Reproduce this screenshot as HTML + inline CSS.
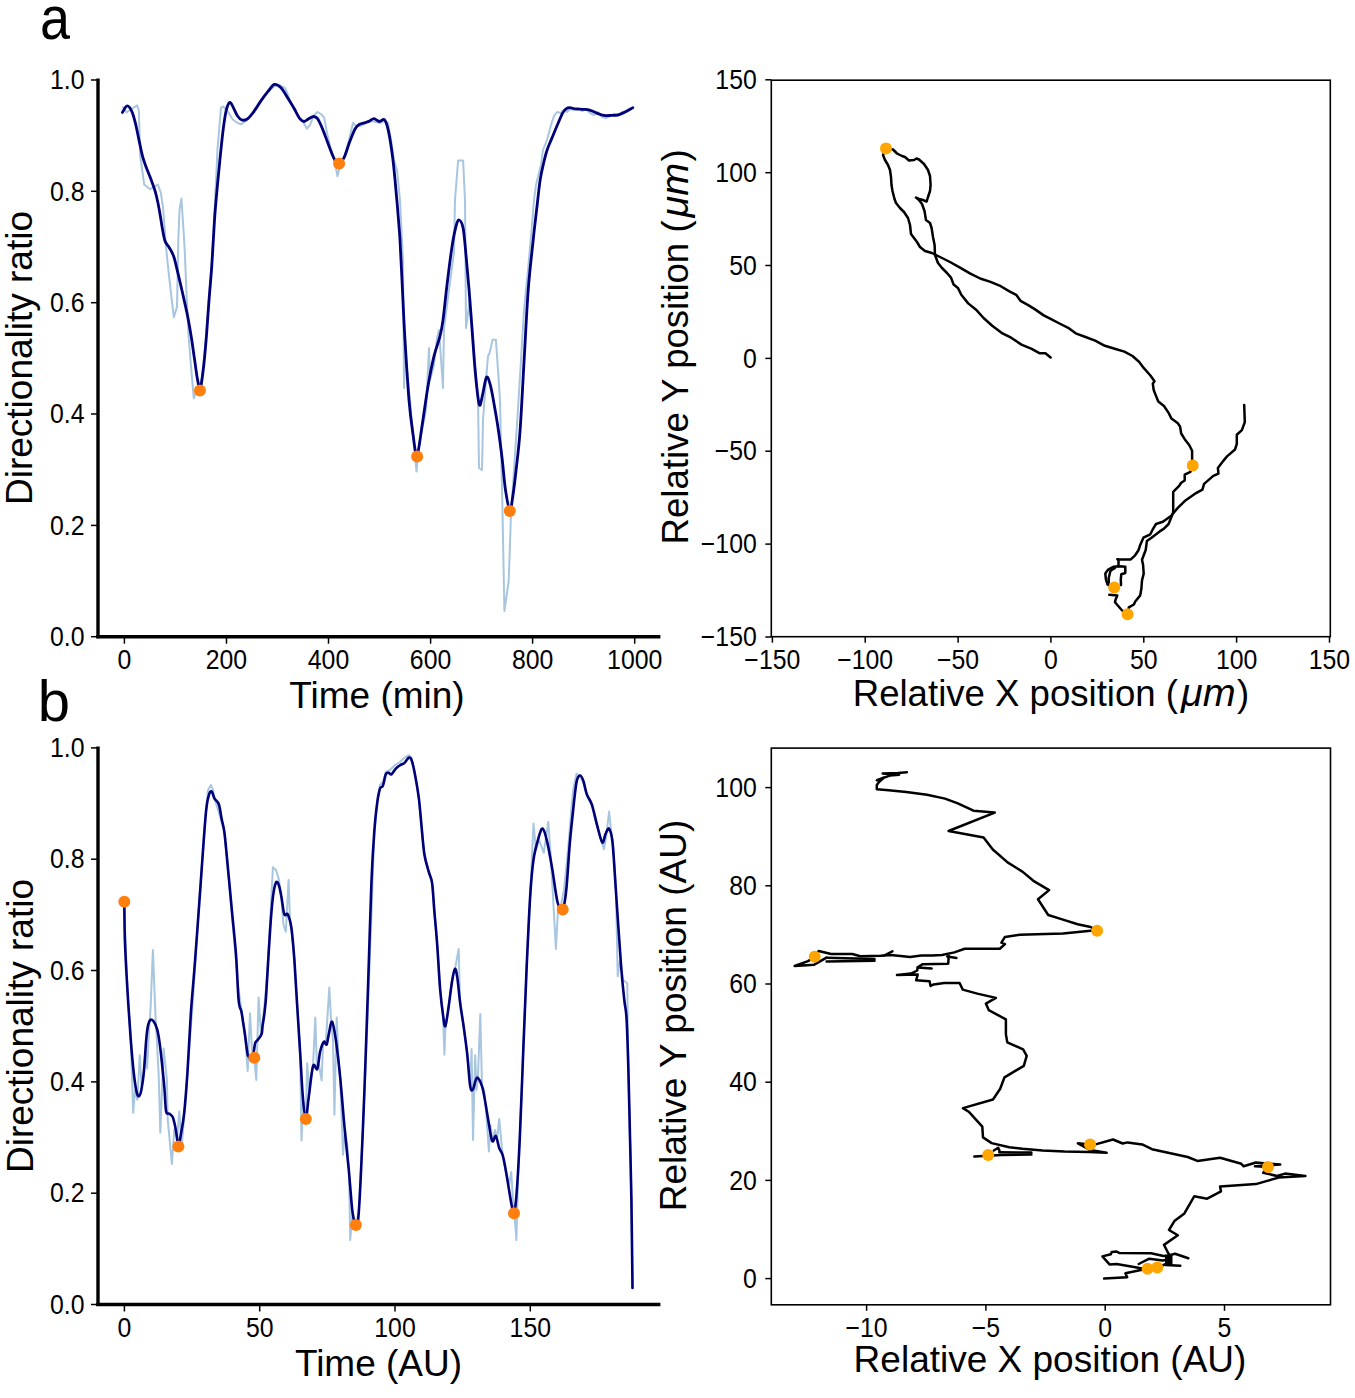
<!DOCTYPE html>
<html><head><meta charset="utf-8"><style>
html,body{margin:0;padding:0;background:#fff;}
svg{display:block;}
text{font-family:"Liberation Sans", sans-serif;fill:#000;}
</style></head><body>
<svg width="1355" height="1398" viewBox="0 0 1355 1398">
<rect width="1355" height="1398" fill="#fff"/>
<line x1="98" y1="78.5" x2="98" y2="638.3000000000001" stroke="#000" stroke-width="3.4"/>
<line x1="96.3" y1="636.7" x2="660.4" y2="636.7" stroke="#000" stroke-width="3.4"/>
<line x1="91" y1="636.7" x2="98" y2="636.7" stroke="#000" stroke-width="1.5"/>
<text x="0" y="0" font-size="27" text-anchor="end" transform="translate(84.50 645.90) scale(0.92 1)">0.0</text>
<line x1="91" y1="525.4" x2="98" y2="525.4" stroke="#000" stroke-width="1.5"/>
<text x="0" y="0" font-size="27" text-anchor="end" transform="translate(84.50 534.56) scale(0.92 1)">0.2</text>
<line x1="91" y1="414.0" x2="98" y2="414.0" stroke="#000" stroke-width="1.5"/>
<text x="0" y="0" font-size="27" text-anchor="end" transform="translate(84.50 423.22) scale(0.92 1)">0.4</text>
<line x1="91" y1="302.7" x2="98" y2="302.7" stroke="#000" stroke-width="1.5"/>
<text x="0" y="0" font-size="27" text-anchor="end" transform="translate(84.50 311.88) scale(0.92 1)">0.6</text>
<line x1="91" y1="191.3" x2="98" y2="191.3" stroke="#000" stroke-width="1.5"/>
<text x="0" y="0" font-size="27" text-anchor="end" transform="translate(84.50 200.54) scale(0.92 1)">0.8</text>
<line x1="91" y1="80.0" x2="98" y2="80.0" stroke="#000" stroke-width="1.5"/>
<text x="0" y="0" font-size="27" text-anchor="end" transform="translate(84.50 89.20) scale(0.92 1)">1.0</text>
<line x1="124.4" y1="636.7" x2="124.4" y2="643.7" stroke="#000" stroke-width="1.5"/>
<text x="0" y="0" font-size="27" text-anchor="middle" transform="translate(124.40 668.70) scale(0.92 1)">0</text>
<line x1="226.5" y1="636.7" x2="226.5" y2="643.7" stroke="#000" stroke-width="1.5"/>
<text x="0" y="0" font-size="27" text-anchor="middle" transform="translate(226.46 668.70) scale(0.92 1)">200</text>
<line x1="328.5" y1="636.7" x2="328.5" y2="643.7" stroke="#000" stroke-width="1.5"/>
<text x="0" y="0" font-size="27" text-anchor="middle" transform="translate(328.52 668.70) scale(0.92 1)">400</text>
<line x1="430.6" y1="636.7" x2="430.6" y2="643.7" stroke="#000" stroke-width="1.5"/>
<text x="0" y="0" font-size="27" text-anchor="middle" transform="translate(430.58 668.70) scale(0.92 1)">600</text>
<line x1="532.6" y1="636.7" x2="532.6" y2="643.7" stroke="#000" stroke-width="1.5"/>
<text x="0" y="0" font-size="27" text-anchor="middle" transform="translate(532.64 668.70) scale(0.92 1)">800</text>
<line x1="634.7" y1="636.7" x2="634.7" y2="643.7" stroke="#000" stroke-width="1.5"/>
<text x="0" y="0" font-size="27" text-anchor="middle" transform="translate(634.70 668.70) scale(0.92 1)">1000</text>
<text x="377.0" y="707.5" font-size="37" text-anchor="middle">Time (min)</text>
<text x="32.0" y="358.0" font-size="37" text-anchor="middle" transform="rotate(-90 32 358)">Directionality ratio</text>
<line x1="98" y1="746.4" x2="98" y2="1306.1" stroke="#000" stroke-width="3.4"/>
<line x1="96.3" y1="1304.5" x2="660.4" y2="1304.5" stroke="#000" stroke-width="3.4"/>
<line x1="91" y1="1304.5" x2="98" y2="1304.5" stroke="#000" stroke-width="1.5"/>
<text x="0" y="0" font-size="27" text-anchor="end" transform="translate(84.50 1313.70) scale(0.92 1)">0.0</text>
<line x1="91" y1="1193.2" x2="98" y2="1193.2" stroke="#000" stroke-width="1.5"/>
<text x="0" y="0" font-size="27" text-anchor="end" transform="translate(84.50 1202.38) scale(0.92 1)">0.2</text>
<line x1="91" y1="1081.9" x2="98" y2="1081.9" stroke="#000" stroke-width="1.5"/>
<text x="0" y="0" font-size="27" text-anchor="end" transform="translate(84.50 1091.06) scale(0.92 1)">0.4</text>
<line x1="91" y1="970.5" x2="98" y2="970.5" stroke="#000" stroke-width="1.5"/>
<text x="0" y="0" font-size="27" text-anchor="end" transform="translate(84.50 979.74) scale(0.92 1)">0.6</text>
<line x1="91" y1="859.2" x2="98" y2="859.2" stroke="#000" stroke-width="1.5"/>
<text x="0" y="0" font-size="27" text-anchor="end" transform="translate(84.50 868.42) scale(0.92 1)">0.8</text>
<line x1="91" y1="747.9" x2="98" y2="747.9" stroke="#000" stroke-width="1.5"/>
<text x="0" y="0" font-size="27" text-anchor="end" transform="translate(84.50 757.10) scale(0.92 1)">1.0</text>
<line x1="124.4" y1="1304.5" x2="124.4" y2="1311.5" stroke="#000" stroke-width="1.5"/>
<text x="0" y="0" font-size="27" text-anchor="middle" transform="translate(124.40 1336.50) scale(0.92 1)">0</text>
<line x1="259.7" y1="1304.5" x2="259.7" y2="1311.5" stroke="#000" stroke-width="1.5"/>
<text x="0" y="0" font-size="27" text-anchor="middle" transform="translate(259.70 1336.50) scale(0.92 1)">50</text>
<line x1="395.0" y1="1304.5" x2="395.0" y2="1311.5" stroke="#000" stroke-width="1.5"/>
<text x="0" y="0" font-size="27" text-anchor="middle" transform="translate(395.00 1336.50) scale(0.92 1)">100</text>
<line x1="530.3" y1="1304.5" x2="530.3" y2="1311.5" stroke="#000" stroke-width="1.5"/>
<text x="0" y="0" font-size="27" text-anchor="middle" transform="translate(530.30 1336.50) scale(0.92 1)">150</text>
<text x="378.5" y="1375.6" font-size="37" text-anchor="middle">Time (AU)</text>
<text x="32.5" y="1026.0" font-size="37" text-anchor="middle" transform="rotate(-90 32.5 1026)">Directionality ratio</text>
<rect x="771.3" y="80.2" width="559.0" height="556.5" fill="none" stroke="#000" stroke-width="1.6"/>
<line x1="772.4" y1="636.7" x2="772.4" y2="642.7" stroke="#000" stroke-width="1.5"/>
<text x="0" y="0" font-size="27" text-anchor="middle" transform="translate(772.35 668.70) scale(0.92 1)">&#8722;150</text>
<line x1="865.2" y1="636.7" x2="865.2" y2="642.7" stroke="#000" stroke-width="1.5"/>
<text x="0" y="0" font-size="27" text-anchor="middle" transform="translate(865.20 668.70) scale(0.92 1)">&#8722;100</text>
<line x1="958.1" y1="636.7" x2="958.1" y2="642.7" stroke="#000" stroke-width="1.5"/>
<text x="0" y="0" font-size="27" text-anchor="middle" transform="translate(958.05 668.70) scale(0.92 1)">&#8722;50</text>
<line x1="1050.9" y1="636.7" x2="1050.9" y2="642.7" stroke="#000" stroke-width="1.5"/>
<text x="0" y="0" font-size="27" text-anchor="middle" transform="translate(1050.90 668.70) scale(0.92 1)">0</text>
<line x1="1143.8" y1="636.7" x2="1143.8" y2="642.7" stroke="#000" stroke-width="1.5"/>
<text x="0" y="0" font-size="27" text-anchor="middle" transform="translate(1143.75 668.70) scale(0.92 1)">50</text>
<line x1="1236.6" y1="636.7" x2="1236.6" y2="642.7" stroke="#000" stroke-width="1.5"/>
<text x="0" y="0" font-size="27" text-anchor="middle" transform="translate(1236.60 668.70) scale(0.92 1)">100</text>
<line x1="1329.5" y1="636.7" x2="1329.5" y2="642.7" stroke="#000" stroke-width="1.5"/>
<text x="0" y="0" font-size="27" text-anchor="middle" transform="translate(1329.45 668.70) scale(0.92 1)">150</text>
<line x1="765.3" y1="637.0" x2="771.3" y2="637.0" stroke="#000" stroke-width="1.5"/>
<text x="0" y="0" font-size="27" text-anchor="end" transform="translate(756.80 646.15) scale(0.92 1)">&#8722;150</text>
<line x1="765.3" y1="544.1" x2="771.3" y2="544.1" stroke="#000" stroke-width="1.5"/>
<text x="0" y="0" font-size="27" text-anchor="end" transform="translate(756.80 553.30) scale(0.92 1)">&#8722;100</text>
<line x1="765.3" y1="451.2" x2="771.3" y2="451.2" stroke="#000" stroke-width="1.5"/>
<text x="0" y="0" font-size="27" text-anchor="end" transform="translate(756.80 460.45) scale(0.92 1)">&#8722;50</text>
<line x1="765.3" y1="358.4" x2="771.3" y2="358.4" stroke="#000" stroke-width="1.5"/>
<text x="0" y="0" font-size="27" text-anchor="end" transform="translate(756.80 367.60) scale(0.92 1)">0</text>
<line x1="765.3" y1="265.5" x2="771.3" y2="265.5" stroke="#000" stroke-width="1.5"/>
<text x="0" y="0" font-size="27" text-anchor="end" transform="translate(756.80 274.75) scale(0.92 1)">50</text>
<line x1="765.3" y1="172.7" x2="771.3" y2="172.7" stroke="#000" stroke-width="1.5"/>
<text x="0" y="0" font-size="27" text-anchor="end" transform="translate(756.80 181.90) scale(0.92 1)">100</text>
<line x1="765.3" y1="79.8" x2="771.3" y2="79.8" stroke="#000" stroke-width="1.5"/>
<text x="0" y="0" font-size="27" text-anchor="end" transform="translate(756.80 89.05) scale(0.92 1)">150</text>
<text x="1051.0" y="705.5" font-size="36.6" text-anchor="middle">Relative X position (<tspan font-style="italic" font-size="39.5" dx="3">&#956;m</tspan><tspan dx="1.5">)</tspan></text>
<text x="688.3" y="346.8" font-size="36.6" text-anchor="middle" transform="rotate(-90 688.3 346.8)">Relative Y position (<tspan font-style="italic" font-size="39.5" dx="3">&#956;m</tspan><tspan dx="1.5">)</tspan></text>
<rect x="771.3" y="748.1" width="559.2" height="556.6999999999999" fill="none" stroke="#000" stroke-width="1.6"/>
<line x1="866.6" y1="1304.8" x2="866.6" y2="1310.8" stroke="#000" stroke-width="1.5"/>
<text x="0" y="0" font-size="27" text-anchor="middle" transform="translate(866.60 1336.80) scale(0.92 1)">&#8722;10</text>
<line x1="985.9" y1="1304.8" x2="985.9" y2="1310.8" stroke="#000" stroke-width="1.5"/>
<text x="0" y="0" font-size="27" text-anchor="middle" transform="translate(985.90 1336.80) scale(0.92 1)">&#8722;5</text>
<line x1="1105.2" y1="1304.8" x2="1105.2" y2="1310.8" stroke="#000" stroke-width="1.5"/>
<text x="0" y="0" font-size="27" text-anchor="middle" transform="translate(1105.20 1336.80) scale(0.92 1)">0</text>
<line x1="1224.5" y1="1304.8" x2="1224.5" y2="1310.8" stroke="#000" stroke-width="1.5"/>
<text x="0" y="0" font-size="27" text-anchor="middle" transform="translate(1224.50 1336.80) scale(0.92 1)">5</text>
<line x1="765.3" y1="1278.6" x2="771.3" y2="1278.6" stroke="#000" stroke-width="1.5"/>
<text x="0" y="0" font-size="27" text-anchor="end" transform="translate(756.80 1287.80) scale(0.92 1)">0</text>
<line x1="765.3" y1="1180.4" x2="771.3" y2="1180.4" stroke="#000" stroke-width="1.5"/>
<text x="0" y="0" font-size="27" text-anchor="end" transform="translate(756.80 1189.60) scale(0.92 1)">20</text>
<line x1="765.3" y1="1082.2" x2="771.3" y2="1082.2" stroke="#000" stroke-width="1.5"/>
<text x="0" y="0" font-size="27" text-anchor="end" transform="translate(756.80 1091.40) scale(0.92 1)">40</text>
<line x1="765.3" y1="984.0" x2="771.3" y2="984.0" stroke="#000" stroke-width="1.5"/>
<text x="0" y="0" font-size="27" text-anchor="end" transform="translate(756.80 993.20) scale(0.92 1)">60</text>
<line x1="765.3" y1="885.8" x2="771.3" y2="885.8" stroke="#000" stroke-width="1.5"/>
<text x="0" y="0" font-size="27" text-anchor="end" transform="translate(756.80 895.00) scale(0.92 1)">80</text>
<line x1="765.3" y1="787.6" x2="771.3" y2="787.6" stroke="#000" stroke-width="1.5"/>
<text x="0" y="0" font-size="27" text-anchor="end" transform="translate(756.80 796.80) scale(0.92 1)">100</text>
<text x="1050.0" y="1371.5" font-size="37" text-anchor="middle">Relative X position (AU)</text>
<text x="685.6" y="1015.5" font-size="37" text-anchor="middle" transform="rotate(-90 685.6 1015.5)">Relative Y position (AU)</text>
<text x="0" y="0" font-size="58" transform="translate(39.9 38.7) scale(0.93 1.05)">a</text>
<text x="37.8" y="721.0" font-size="58" text-anchor="start">b</text>
<path d="M122.4,106.5 L126.5,112.4 L130.0,110.0 L133.6,107.7 L137.2,105.4 L138.9,111.3 L140.1,155.0 L144.2,184.5 L150.1,189.2 L157.8,184.5 L160.8,192.7 L163.1,208.0 L166.1,247.7 L169.3,278.6 L173.8,317.2 L177.0,306.9 L178.3,240.0 L179.5,210.0 L181.4,198.6 L183.5,230.0 L184.7,250.0 L186.7,297.9 L188.6,336.5 L191.2,368.7 L193.8,398.3 L196.0,392.0 L199.0,385.0 L201.5,380.0 L204.1,358.0 L206.6,330.0 L209.2,295.0 L211.8,262.0 L214.5,214.0 L217.5,149.0 L221.0,107.7 L223.4,106.5 L228.0,112.0 L232.8,119.5 L237.5,123.0 L241.1,124.2 L246.0,121.0 L252.0,113.0 L258.0,104.0 L264.0,96.0 L270.0,90.0 L275.0,86.0 L280.0,85.0 L285.0,88.0 L288.0,95.0 L291.0,103.0 L294.0,109.0 L299.0,117.0 L303.0,122.0 L307.0,128.7 L310.0,125.0 L314.0,115.0 L317.5,112.0 L321.0,114.0 L324.2,117.6 L327.0,133.0 L330.0,146.0 L334.0,158.0 L337.5,176.3 L340.0,166.0 L344.0,158.0 L349.0,140.0 L353.0,123.0 L356.0,126.0 L360.0,126.0 L364.0,124.0 L368.0,122.0 L372.0,121.0 L376.0,122.0 L380.0,123.0 L384.0,121.0 L388.0,123.0 L391.0,140.0 L394.0,160.0 L397.0,170.0 L398.5,185.0 L400.0,200.0 L401.5,230.0 L403.0,260.0 L404.0,388.0 L405.0,340.0 L407.0,370.0 L410.0,400.0 L413.0,435.0 L416.5,471.6 L419.0,445.0 L422.0,430.0 L426.0,410.0 L429.0,348.0 L430.0,380.0 L434.0,365.0 L437.0,338.0 L439.0,330.0 L443.0,388.0 L444.0,328.0 L449.0,290.0 L454.0,252.0 L455.0,200.0 L458.1,160.4 L463.1,160.4 L465.0,200.0 L466.0,328.0 L470.0,298.0 L474.0,350.0 L478.0,400.0 L479.0,468.0 L482.0,470.0 L483.0,420.0 L486.0,380.0 L488.0,356.0 L489.4,353.6 L492.6,339.7 L495.9,339.7 L498.0,370.0 L500.0,400.0 L502.3,501.6 L504.4,611.0 L508.7,581.0 L510.9,516.7 L514.0,470.0 L517.3,420.0 L521.0,360.0 L524.0,310.0 L528.0,270.0 L532.0,225.0 L534.0,200.0 L536.0,185.0 L538.3,175.4 L541.0,165.0 L543.0,150.0 L547.0,140.0 L551.0,125.0 L554.0,116.0 L557.0,112.0 L561.0,113.0 L564.0,110.0 L567.0,112.0 L570.0,109.0 L574.0,110.0 L578.0,108.0 L582.0,111.0 L586.0,109.0 L590.0,113.0 L594.0,115.0 L598.0,112.0 L602.0,117.0 L606.0,118.0 L610.0,116.0 L614.0,114.0 L618.0,116.0 L622.0,112.0 L626.0,111.0 L630.0,109.0" fill="none" stroke="#a8c6e0" stroke-width="2" stroke-linejoin="round"/>
<path d="M122.4,112.4 C123.2,111.3 125.5,106.1 127.1,105.9 C128.7,105.7 130.4,108.4 131.8,111.3 C133.2,114.2 134.2,118.4 135.4,123.1 C136.6,127.8 137.7,134.1 138.9,139.6 C140.1,145.1 141.3,151.6 142.5,156.1 C143.7,160.6 144.6,162.9 146.0,166.7 C147.4,170.4 149.2,174.6 150.7,178.6 C152.2,182.6 153.7,186.5 154.9,190.4 C156.1,194.3 156.9,198.1 157.8,202.2 C158.7,206.3 159.4,210.7 160.2,215.2 C161.0,219.7 161.7,225.0 162.5,229.3 C163.3,233.6 163.9,237.9 165.0,241.0 C166.1,244.1 167.8,245.1 169.3,247.7 C170.8,250.3 172.4,252.6 173.8,256.7 C175.2,260.8 176.3,266.4 177.7,272.2 C179.1,278.0 180.6,284.4 182.2,291.5 C183.8,298.6 185.8,307.1 187.3,314.6 C188.8,322.1 190.0,329.2 191.2,336.5 C192.4,343.8 193.4,351.8 194.4,358.4 C195.4,365.0 196.1,371.1 197.0,376.4 C197.9,381.7 199.2,388.9 199.9,390.0 C200.7,391.1 200.8,387.5 201.5,382.9 C202.2,378.3 203.2,370.4 204.1,362.3 C204.9,354.2 205.8,344.7 206.6,334.0 C207.4,323.3 208.3,309.3 209.2,297.9 C210.1,286.5 210.9,278.7 211.8,265.7 C212.7,252.7 213.6,233.5 214.5,220.0 C215.4,206.5 216.5,195.3 217.5,184.5 C218.5,173.7 219.4,164.3 220.4,154.9 C221.4,145.5 222.4,135.3 223.4,127.8 C224.4,120.3 225.2,114.3 226.3,110.1 C227.4,105.9 228.7,102.8 229.9,102.4 C231.1,102.0 232.1,105.4 233.4,107.7 C234.7,110.0 236.0,113.9 237.5,116.0 C239.0,118.1 240.4,119.7 242.2,120.1 C244.0,120.5 246.2,119.8 248.2,118.3 C250.2,116.8 251.9,114.2 254.1,111.3 C256.2,108.3 258.8,103.9 261.1,100.6 C263.5,97.2 266.0,93.9 268.2,91.2 C270.4,88.5 272.3,85.0 274.4,84.4 C276.5,83.8 278.8,85.5 281.0,87.7 C283.2,89.9 285.4,94.2 287.6,97.7 C289.8,101.2 292.3,105.2 294.3,108.7 C296.3,112.2 298.2,116.6 299.8,118.7 C301.4,120.8 302.7,121.5 304.2,121.5 C305.7,121.5 307.1,119.5 308.7,118.7 C310.3,117.9 312.2,116.5 313.7,116.5 C315.2,116.5 316.1,116.9 317.5,118.7 C318.9,120.5 320.3,123.7 322.0,127.6 C323.7,131.5 325.5,136.8 327.5,142.0 C329.5,147.2 332.2,155.0 334.1,158.6 C336.0,162.2 337.4,163.7 339.1,163.5 C340.8,163.3 342.4,161.1 344.1,157.5 C345.9,153.9 347.8,146.8 349.6,142.0 C351.5,137.2 353.5,131.7 355.2,128.7 C356.9,125.7 358.0,125.2 359.6,124.2 C361.2,123.2 363.4,123.1 365.1,122.6 C366.8,122.0 368.1,121.6 369.6,120.9 C371.1,120.2 372.4,118.6 374.0,118.7 C375.6,118.8 377.8,121.3 379.5,121.5 C381.2,121.7 383.0,118.2 384.5,119.8 C386.0,121.4 387.0,124.4 388.4,130.9 C389.8,137.4 391.5,148.4 392.8,158.6 C394.1,168.8 395.2,181.6 396.1,191.8 C397.1,202.0 397.9,212.0 398.5,220.0 C399.1,228.0 399.4,230.0 400.0,240.0 C400.6,250.0 401.2,263.3 402.0,280.0 C402.8,296.7 403.8,320.2 405.0,340.2 C406.2,360.2 407.7,384.5 409.0,400.2 C410.3,415.9 411.7,425.2 413.0,434.3 C414.3,443.4 415.5,456.3 417.0,455.0 C418.5,453.7 420.2,437.8 422.0,426.3 C423.8,414.8 426.0,397.9 428.0,386.2 C430.0,374.5 432.0,364.5 434.0,356.2 C436.0,347.9 438.5,342.2 440.0,336.2 C441.5,330.2 441.8,328.8 443.0,320.1 C444.2,311.4 445.6,296.4 447.1,284.1 C448.6,271.8 450.6,255.8 452.1,246.1 C453.6,236.4 454.9,230.3 456.1,226.0 C457.3,221.7 457.9,219.7 459.1,220.0 C460.3,220.3 461.9,222.0 463.1,228.0 C464.3,234.0 465.1,245.8 466.1,256.1 C467.1,266.5 468.1,277.8 469.1,290.1 C470.1,302.5 471.1,316.9 472.1,330.2 C473.1,343.5 474.1,358.9 475.1,370.2 C476.1,381.5 477.3,392.4 478.1,398.2 C478.9,404.0 479.3,406.2 480.1,405.2 C480.9,404.2 482.0,396.9 483.1,392.2 C484.2,387.5 485.3,378.5 486.5,377.2 C487.7,375.9 488.8,379.7 490.1,384.2 C491.4,388.7 492.8,396.8 494.1,404.2 C495.4,411.6 496.8,419.3 498.1,428.3 C499.4,437.3 500.9,448.0 502.1,458.3 C503.3,468.6 504.2,481.4 505.5,490.0 C506.8,498.6 508.6,509.2 509.8,510.0 C511.1,510.8 511.9,501.7 513.0,495.0 C514.0,488.3 514.9,480.8 516.1,470.0 C517.3,459.2 518.8,448.6 520.1,430.3 C521.4,412.0 522.8,383.6 524.1,360.2 C525.5,336.8 526.7,310.1 528.2,290.1 C529.7,270.1 531.8,253.4 533.2,240.0 C534.6,226.6 535.5,219.8 536.6,209.9 C537.8,200.0 538.9,188.3 540.1,180.4 C541.3,172.5 542.5,167.8 543.7,162.7 C544.9,157.6 545.8,153.8 547.2,149.7 C548.6,145.6 550.2,142.2 552.0,137.9 C553.8,133.6 556.1,127.8 557.9,123.7 C559.7,119.6 561.2,115.6 562.6,113.1 C564.0,110.6 564.9,109.8 566.1,108.9 C567.3,108.0 568.1,107.7 569.7,107.7 C571.3,107.7 573.4,108.6 575.6,108.9 C577.8,109.2 580.4,109.1 582.7,109.3 C585.1,109.5 587.4,109.5 589.7,110.1 C592.1,110.7 594.4,112.2 596.8,113.1 C599.2,114.0 601.5,115.0 603.9,115.4 C606.3,115.8 608.6,115.5 611.0,115.4 C613.4,115.3 615.7,115.4 618.1,114.8 C620.5,114.2 622.8,113.1 625.2,111.9 C627.7,110.7 631.5,108.4 632.8,107.7" fill="none" stroke="#000078" stroke-width="2.8" stroke-linejoin="round" stroke-linecap="round"/>
<circle cx="199.9" cy="390.4" r="6" fill="#ff7f0e"/>
<circle cx="339.1" cy="163.5" r="6" fill="#ff7f0e"/>
<circle cx="417.1" cy="456.6" r="6" fill="#ff7f0e"/>
<circle cx="509.8" cy="510.9" r="6" fill="#ff7f0e"/>
<path d="M1050.6,357.5 L1045.4,353.2 L1039.4,353.2 L1031.7,348.9 L1021.4,344.6 L1011.1,337.7 L1002.5,333.4 L992.2,325.7 L983.6,318.0 L976.7,310.3 L968.2,303.4 L961.3,294.8 L957.9,287.9 L953.6,284.5 L951.0,277.6 L947.0,273.0 L942.0,268.0 L938.0,263.0 L935.0,255.0 L934.6,245.0 L933.0,237.0 L931.6,228.0 L930.0,223.0 L926.0,220.0 L924.5,211.0 L922.0,204.0 L919.0,200.0 L916.0,197.6 L919.0,199.0 L923.0,200.0 L926.6,201.6 L928.0,197.0 L930.0,191.0 L930.6,185.0 L930.0,176.0 L928.0,170.0 L924.0,164.0 L919.0,159.5 L916.5,158.5 L914.0,160.0 L909.0,160.5 L905.0,157.0 L902.0,156.0 L897.0,153.5 L893.0,149.5 L886.0,148.5" fill="none" stroke="#000" stroke-width="2.5" stroke-linejoin="round" stroke-linecap="round"/>
<path d="M886.0,148.5 L883.0,155.0 L885.0,160.0 L888.0,165.0 L890.0,170.0 L891.0,177.0 L891.5,185.0 L892.5,191.0 L894.5,199.0 L896.0,203.0 L900.0,208.0 L904.0,212.0 L908.0,218.0 L910.0,225.0 L911.0,234.0 L914.0,238.0 L917.0,242.0 L920.0,247.0 L925.0,251.0 L932.0,253.0 L938.0,256.0 L944.0,259.0 L950.0,262.0 L959.6,267.3 L969.9,273.4 L980.2,278.5 L990.5,281.9 L1000.8,286.2 L1009.4,291.4 L1016.2,294.8 L1020.5,300.8 L1028.2,305.1 L1035.1,309.4 L1043.7,315.4 L1050.6,318.8 L1059.5,323.5 L1069.2,328.4 L1075.7,333.3 L1085.5,337.0 L1095.2,340.6 L1104.9,345.8 L1114.7,348.7 L1124.4,351.6 L1132.5,356.0 L1139.0,361.7 L1143.9,368.2 L1150.4,375.5 L1154.5,381.2 L1152.8,383.6 L1153.7,390.0 L1155.5,394.6 L1158.3,401.5 L1164.0,406.0 L1168.6,412.9 L1171.5,418.6 L1177.8,423.2 L1180.1,426.6 L1181.2,433.5 L1184.7,439.2 L1189.2,445.0 L1192.1,450.7 L1192.1,458.7 L1192.7,465.6" fill="none" stroke="#000" stroke-width="2.5" stroke-linejoin="round" stroke-linecap="round"/>
<path d="M1192.7,465.6 L1190.4,471.9 L1184.7,474.7 L1184.7,480.5 L1181.2,482.8 L1178.9,486.2 L1173.2,491.9 L1173.2,504.5 L1173.2,512.5 L1168.6,524.0 L1164.0,528.6 L1159.7,531.4 L1151.5,537.7 L1146.9,541.1 L1145.7,550.0 L1142.0,559.7 L1143.1,565.0 L1143.7,573.6 L1142.0,580.5 L1141.4,588.5 L1140.2,595.4 L1135.1,601.7 L1133.9,604.5 L1128.8,607.4 L1127.6,614.3" fill="none" stroke="#000" stroke-width="2.5" stroke-linejoin="round" stroke-linecap="round"/>
<path d="M1127.6,614.3 L1121.9,610.3 L1115.0,602.2 L1115.6,599.4 L1117.3,595.4 L1109.3,594.8" fill="none" stroke="#000" stroke-width="2.5" stroke-linejoin="round" stroke-linecap="round"/>
<path d="M1114.2,587.6 L1107.6,584.5 L1105.9,579.3 L1105.3,573.6 L1108.2,569.6 L1113.3,566.8 L1119.0,566.2 L1125.3,566.8 L1125.3,573.0 L1121.3,574.2 L1120.8,579.3 L1121.0,585.1" fill="none" stroke="#000" stroke-width="2.5" stroke-linejoin="round" stroke-linecap="round"/>
<path d="M1108.7,583.0 L1108.7,578.0 L1110.5,570.8 L1115.0,568.0" fill="none" stroke="#000" stroke-width="2.5" stroke-linejoin="round" stroke-linecap="round"/>
<path d="M1118.5,566.2 L1118.5,559.3 L1117.3,559.3 L1130.5,559.6 L1135.1,555.3 L1138.5,550.2 L1140.2,545.0 L1143.4,537.7 L1150.3,534.3 L1152.6,529.7 L1156.0,524.0 L1162.9,521.7 L1170.9,516.0 L1177.8,507.9 L1184.7,501.1 L1196.1,493.1 L1202.4,489.6 L1204.1,483.9 L1213.3,475.9 L1218.4,473.6 L1217.9,467.9 L1222.4,462.1 L1227.0,456.4 L1235.0,449.5 L1236.8,443.8 L1236.8,434.7 L1241.9,430.1 L1244.8,422.1 L1244.2,404.9" fill="none" stroke="#000" stroke-width="2.5" stroke-linejoin="round" stroke-linecap="round"/>
<circle cx="886" cy="148.5" r="6" fill="#ffa500"/>
<circle cx="1192.7" cy="465.6" r="6" fill="#ffa500"/>
<circle cx="1127.6" cy="614.3" r="6" fill="#ffa500"/>
<circle cx="1114.2" cy="587.6" r="6" fill="#ffa500"/>
<path d="M124.3,903.0 L125.5,940.0 L127.4,989.0 L130.7,1038.0 L133.2,1112.8 L135.0,1090.0 L137.3,1099.7 L139.8,1055.2 L141.5,1085.0 L143.9,1072.0 L145.5,1050.0 L147.2,1068.4 L149.0,1030.0 L150.5,1010.0 L152.9,949.9 L155.4,1014.1 L158.7,1075.0 L160.3,1132.6 L163.6,1048.6 L166.9,1079.9 L167.7,1119.4 L171.9,1163.9 L174.3,1129.3 L177.0,1140.0 L179.3,1111.2 L181.7,1145.8 L185.8,1098.0 L188.7,1056.0 L193.0,999.0 L197.3,930.0 L201.6,870.0 L205.9,812.0 L208.0,790.0 L211.0,785.0 L213.0,790.0 L215.0,800.0 L218.0,810.0 L221.0,820.0 L224.0,830.0 L227.0,858.0 L231.0,905.0 L235.0,950.0 L238.0,985.0 L240.0,1000.0 L243.0,1022.0 L245.0,1034.0 L247.7,1071.0 L250.0,1013.2 L252.0,1050.0 L254.3,1060.0 L256.3,1080.0 L258.6,997.4 L261.0,1035.0 L264.0,1010.0 L267.0,977.0 L270.0,925.0 L272.9,867.2 L276.0,870.0 L279.0,880.0 L281.5,900.0 L283.5,925.0 L285.8,931.6 L288.6,880.0 L290.0,920.0 L291.5,928.7 L294.4,960.0 L297.2,1006.0 L300.1,1051.8 L301.5,1140.5 L303.0,1100.0 L305.8,1119.0 L307.2,1063.2 L309.0,1090.0 L311.0,1075.0 L313.0,1066.0 L315.3,1017.5 L317.0,1070.0 L319.0,1065.0 L321.6,1080.4 L323.0,1045.0 L326.0,1040.0 L329.3,987.4 L331.0,1020.0 L333.0,1040.0 L334.4,1114.8 L336.7,1017.5 L338.5,1060.0 L340.2,1078.0 L343.0,1154.8 L345.0,1130.0 L347.3,1144.8 L349.0,1170.0 L350.2,1240.0 L352.5,1212.0 L355.9,1225.0 L358.8,1212.0 L363.0,1126.0 L367.3,1026.0 L371.6,911.5 L374.3,831.6 L377.2,803.0 L380.0,785.0 L382.9,782.0 L385.8,772.0 L390.0,770.0 L395.0,765.0 L400.0,762.0 L404.0,758.0 L408.7,755.0 L411.5,758.0 L414.4,771.5 L418.7,797.0 L421.5,826.0 L424.4,854.0 L428.7,872.0 L432.0,883.0 L434.4,911.7 L437.3,946.0 L440.1,989.0 L443.0,1014.8 L444.4,1054.8 L445.3,1030.0 L448.7,1006.0 L452.2,980.0 L455.0,969.0 L458.7,948.9 L460.0,1000.0 L463.6,1026.0 L467.3,1054.8 L470.2,1086.0 L471.6,1049.1 L473.0,1140.0 L475.2,1055.3 L476.5,1090.0 L478.0,1075.0 L480.3,1014.1 L482.0,1086.0 L484.0,1090.0 L486.0,1110.0 L488.9,1151.5 L490.5,1125.0 L492.3,1141.0 L495.0,1130.0 L497.0,1140.0 L499.2,1118.9 L502.6,1155.0 L506.0,1172.0 L509.0,1185.0 L511.2,1172.0 L513.0,1200.0 L514.5,1215.0 L516.4,1240.0 L518.0,1180.0 L519.8,1137.7 L523.2,1051.9 L526.7,966.0 L530.1,897.4 L533.5,823.5 L536.0,850.0 L539.0,840.0 L543.8,852.7 L548.3,821.8 L551.0,860.0 L555.9,948.9 L558.0,910.0 L561.0,905.0 L564.0,890.0 L568.0,850.0 L573.0,790.9 L576.5,773.7 L580.0,776.0 L583.0,782.0 L587.0,795.0 L592.0,806.0 L597.0,826.0 L603.9,849.3 L606.0,838.0 L609.1,811.5 L611.0,830.0 L613.0,842.0 L615.9,890.0 L617.7,976.3 L620.0,960.0 L623.0,980.0 L627.3,983.2 L628.3,1066.5 L629.9,1133.0 L631.4,1199.4 L632.5,1288.0" fill="none" stroke="#a8c6e0" stroke-width="2" stroke-linejoin="round"/>
<path d="M124.3,901.7 C124.4,908.1 124.4,925.4 124.9,940.0 C125.4,954.6 126.4,972.9 127.4,989.4 C128.4,1005.9 129.6,1024.5 130.7,1038.8 C131.8,1053.1 133.0,1066.2 134.0,1075.0 C135.0,1083.8 135.7,1087.8 136.5,1091.4 C137.3,1095.0 138.1,1096.7 138.9,1096.4 C139.7,1096.1 140.6,1093.9 141.4,1089.8 C142.2,1085.7 143.1,1080.2 143.9,1071.7 C144.7,1063.2 145.6,1046.5 146.3,1038.8 C147.0,1031.1 147.3,1028.8 148.0,1025.6 C148.7,1022.4 149.6,1020.5 150.5,1019.8 C151.4,1019.1 152.6,1020.0 153.7,1021.5 C154.8,1023.0 156.0,1025.5 157.0,1028.9 C158.0,1032.3 158.7,1036.3 159.5,1042.1 C160.3,1047.9 161.2,1055.8 162.0,1063.5 C162.8,1071.2 163.7,1080.1 164.4,1088.1 C165.1,1096.0 165.3,1106.9 166.1,1111.2 C166.9,1115.5 168.3,1112.7 169.4,1113.7 C170.5,1114.7 171.8,1115.0 172.7,1117.0 C173.6,1119.0 174.4,1122.8 175.1,1126.0 C175.8,1129.2 176.2,1132.5 176.8,1135.9 C177.4,1139.3 177.7,1146.9 178.4,1146.6 C179.1,1146.3 179.9,1139.8 180.9,1134.2 C181.9,1128.6 183.1,1123.2 184.2,1112.8 C185.3,1102.4 186.4,1088.2 187.5,1071.7 C188.6,1055.2 189.7,1030.6 190.8,1014.1 C191.9,997.6 193.0,986.9 194.1,972.9 C195.2,958.9 196.1,947.4 197.3,930.3 C198.6,913.2 200.2,889.8 201.6,870.2 C203.0,850.6 204.7,825.3 205.9,812.9 C207.1,800.5 207.8,799.4 208.7,795.8 C209.6,792.2 210.6,791.0 211.6,791.5 C212.6,792.0 213.3,796.5 214.5,798.6 C215.7,800.7 217.6,800.9 218.8,804.3 C220.0,807.6 220.7,813.9 221.6,818.7 C222.5,823.5 223.6,825.9 224.5,833.0 C225.4,840.1 226.1,849.2 227.3,861.6 C228.5,874.0 230.2,892.1 231.6,907.4 C233.0,922.7 234.7,937.8 235.9,953.2 C237.1,968.6 237.7,990.3 238.6,1000.0 C239.5,1009.7 240.6,1007.6 241.4,1011.4 C242.2,1015.2 242.6,1019.1 243.2,1022.9 C243.8,1026.7 244.2,1029.5 244.9,1034.3 C245.6,1039.1 246.6,1047.9 247.2,1051.5 C247.8,1055.1 247.4,1055.0 248.3,1056.1 C249.2,1057.2 251.6,1059.0 252.5,1058.0 C253.4,1057.0 253.6,1052.9 254.0,1050.4 C254.4,1047.9 254.6,1044.6 255.2,1042.9 C255.8,1041.2 256.4,1041.5 257.5,1040.1 C258.6,1038.7 260.6,1036.7 261.5,1034.3 C262.4,1031.9 262.1,1029.1 262.6,1025.8 C263.1,1022.5 263.8,1018.6 264.3,1014.3 C264.8,1010.0 265.3,1006.1 265.8,1000.0 C266.3,993.9 266.5,988.8 267.2,977.4 C267.9,966.0 269.1,945.0 270.0,931.6 C270.9,918.2 271.9,905.3 272.9,897.2 C273.9,889.1 274.9,885.0 275.8,882.9 C276.8,880.8 277.7,882.0 278.6,884.4 C279.6,886.8 280.6,892.2 281.5,897.2 C282.4,902.2 283.2,911.5 284.3,914.4 C285.4,917.3 286.6,912.0 287.8,914.4 C289.0,916.8 290.4,921.1 291.5,928.7 C292.6,936.3 293.4,947.3 294.4,960.2 C295.3,973.1 296.2,990.7 297.2,1006.0 C298.1,1021.3 299.2,1036.5 300.1,1051.8 C301.1,1067.1 301.9,1086.6 302.9,1097.6 C303.8,1108.6 304.8,1118.0 305.8,1118.0 C306.8,1118.0 307.5,1106.2 308.7,1097.6 C309.9,1088.9 311.6,1070.9 313.0,1066.1 C314.4,1061.3 316.1,1071.4 317.3,1069.0 C318.5,1066.6 319.0,1056.3 320.1,1051.8 C321.2,1047.3 322.7,1043.0 323.8,1041.8 C324.9,1040.6 325.9,1045.8 326.7,1044.6 C327.5,1043.4 327.8,1038.4 328.7,1034.6 C329.6,1030.8 330.9,1020.8 332.1,1021.7 C333.3,1022.7 334.5,1031.0 335.9,1040.3 C337.2,1049.6 338.8,1063.3 340.2,1077.6 C341.6,1091.9 343.0,1111.0 344.4,1126.2 C345.8,1141.5 347.3,1154.8 348.7,1169.1 C350.1,1183.4 351.3,1202.9 352.5,1212.1 C353.7,1221.2 354.8,1224.0 355.9,1224.0 C356.9,1224.0 357.6,1228.4 358.8,1212.1 C360.0,1195.8 361.9,1152.4 363.0,1126.2 C364.1,1100.0 364.8,1081.0 365.7,1054.8 C366.6,1028.6 367.7,997.6 368.6,969.0 C369.6,940.4 370.4,906.0 371.4,883.1 C372.3,860.2 373.3,845.0 374.3,831.6 C375.3,818.2 376.2,810.1 377.2,803.0 C378.1,795.9 379.1,791.6 380.0,788.7 C380.9,785.8 381.9,788.2 382.9,785.8 C383.9,783.4 384.9,776.4 385.8,774.3 C386.8,772.1 387.7,772.9 388.6,772.9 C389.6,772.9 390.3,775.0 391.5,774.3 C392.7,773.6 394.4,770.1 395.8,768.6 C397.2,767.1 398.7,766.2 400.1,765.2 C401.5,764.2 403.0,764.1 404.4,762.9 C405.8,761.6 407.5,758.2 408.7,757.7 C409.9,757.2 410.6,757.7 411.5,760.0 C412.4,762.3 413.2,765.3 414.4,771.5 C415.6,777.7 417.5,788.1 418.7,797.2 C419.9,806.3 420.6,816.4 421.5,825.9 C422.4,835.4 423.2,846.9 424.4,854.5 C425.6,862.1 427.4,866.9 428.7,871.7 C430.0,876.5 431.2,876.4 432.1,883.1 C433.1,889.8 433.5,901.2 434.4,911.7 C435.3,922.2 436.4,933.2 437.3,946.1 C438.2,959.0 439.2,977.5 440.1,989.0 C441.1,1000.5 442.1,1008.6 443.0,1014.8 C443.9,1021.0 444.4,1027.6 445.3,1026.2 C446.2,1024.8 447.6,1013.8 448.7,1006.2 C449.8,998.6 451.1,986.6 452.2,980.4 C453.2,974.2 454.1,969.5 455.0,969.0 C455.9,968.5 456.4,971.9 457.3,977.6 C458.2,983.3 459.1,995.2 460.2,1003.3 C461.2,1011.4 462.4,1017.6 463.6,1026.2 C464.8,1034.8 466.2,1044.8 467.3,1054.8 C468.4,1064.8 469.2,1080.6 470.2,1086.3 C471.1,1092.0 471.9,1090.6 473.0,1089.2 C474.1,1087.8 475.4,1078.2 476.9,1077.7 C478.4,1077.2 480.6,1081.9 482.0,1086.2 C483.4,1090.5 484.4,1097.1 485.5,1103.4 C486.6,1109.7 487.8,1117.7 488.9,1124.0 C490.0,1130.3 491.1,1139.2 492.3,1141.2 C493.5,1143.2 494.7,1134.9 495.8,1136.0 C496.9,1137.1 498.1,1144.8 499.2,1148.0 C500.3,1151.2 501.5,1150.9 502.6,1154.9 C503.8,1158.9 505.0,1165.8 506.1,1172.1 C507.2,1178.4 508.5,1187.0 509.5,1192.7 C510.5,1198.4 511.1,1203.0 511.9,1206.4 C512.6,1209.8 513.2,1214.7 514.0,1213.0 C514.8,1211.3 515.4,1208.6 516.4,1196.1 C517.4,1183.5 518.7,1161.7 519.8,1137.7 C520.9,1113.7 522.1,1080.5 523.2,1051.9 C524.4,1023.3 525.6,991.8 526.7,966.0 C527.9,940.2 529.0,915.1 530.1,897.4 C531.2,879.7 532.1,869.6 533.5,859.6 C534.9,849.6 537.2,842.4 538.7,837.3 C540.2,832.1 541.4,827.9 542.8,828.7 C544.2,829.6 545.7,835.5 547.3,842.4 C548.9,849.3 550.7,859.9 552.4,869.9 C554.1,879.9 555.9,896.0 557.6,902.5 C559.3,909.0 561.3,911.0 562.7,909.0 C564.1,907.0 565.1,901.0 566.2,890.5 C567.4,880.0 568.5,859.1 569.6,845.9 C570.7,832.7 571.9,822.1 573.0,811.5 C574.1,800.9 575.4,788.3 576.5,782.3 C577.6,776.3 578.8,775.8 579.9,775.5 C581.0,775.2 582.1,777.5 583.3,780.6 C584.4,783.7 585.4,790.3 586.8,794.3 C588.2,798.3 590.2,799.5 591.9,804.6 C593.6,809.8 595.4,818.9 597.1,825.2 C598.8,831.5 600.8,841.0 602.2,842.4 C603.6,843.8 604.5,836.1 605.6,833.8 C606.8,831.5 608.0,827.3 609.1,828.7 C610.2,830.1 611.4,832.1 612.5,842.4 C613.6,852.7 614.5,869.9 615.9,890.5 C617.3,911.1 619.7,947.8 621.1,966.0 C622.5,984.2 623.4,991.4 624.3,1000.0 C625.2,1008.6 625.8,1006.6 626.5,1017.7 C627.2,1028.8 627.7,1047.3 628.3,1066.5 C628.9,1085.7 629.4,1110.8 629.9,1133.0 C630.4,1155.2 631.0,1173.6 631.4,1199.4 C631.8,1225.2 632.3,1273.2 632.5,1288.0" fill="none" stroke="#000078" stroke-width="2.6" stroke-linejoin="round" stroke-linecap="round"/>
<circle cx="124.3" cy="901.7" r="6" fill="#ff7f0e"/>
<circle cx="178.4" cy="1146.6" r="6" fill="#ff7f0e"/>
<circle cx="254.3" cy="1057.8" r="6" fill="#ff7f0e"/>
<circle cx="305.8" cy="1119" r="6" fill="#ff7f0e"/>
<circle cx="355.9" cy="1225" r="6" fill="#ff7f0e"/>
<circle cx="514" cy="1213.3" r="6" fill="#ff7f0e"/>
<circle cx="562.7" cy="909.4" r="6" fill="#ff7f0e"/>
<rect x="1165" y="1254.5" width="7.5" height="11.5" fill="#000"/>
<path d="M906.9,772.3 L898.1,772.9 L882.7,773.5 L899.2,774.7 L889.8,775.6 L876.8,780.3 L884.0,777.5 L879.0,782.0 L876.8,785.0 L876.8,789.2 L888.6,790.3 L906.3,792.1 L927.0,794.8 L945.0,798.6 L957.8,803.4 L973.5,810.7 L994.7,812.6 L948.6,831.0 L983.6,837.5 L992.8,849.5 L1007.6,862.4 L1022.4,871.6 L1033.4,880.8 L1049.1,890.1 L1038.0,899.3 L1048.2,915.0 L1063.0,919.6 L1077.7,924.2 L1090.6,927.0 L1097.1,930.7" fill="none" stroke="#000" stroke-width="2.5" stroke-linejoin="round" stroke-linecap="round"/>
<path d="M1097.1,930.7 L1090.6,930.7 L1063.0,933.4 L1020.0,934.8 L1005.0,936.9 L1001.4,942.6 L1005.0,944.1 L999.8,948.8 L964.7,948.8 L954.4,952.4 L942.0,955.0 L931.7,955.5 L921.3,955.5 L910.0,957.0 L900.7,956.0 L890.3,955.0 L880.7,955.8 L860.3,956.3 L852.3,954.0 L831.1,954.0 L818.7,951.0 L814.7,956.7" fill="none" stroke="#000" stroke-width="2.5" stroke-linejoin="round" stroke-linecap="round"/>
<path d="M884.1,955.5 L892.4,951.3" fill="none" stroke="#000" stroke-width="2.5" stroke-linejoin="round" stroke-linecap="round"/>
<path d="M826.6,957.8 L874.5,958.9" fill="none" stroke="#000" stroke-width="2.5" stroke-linejoin="round" stroke-linecap="round"/>
<path d="M826.6,961.4 L874.5,960.7" fill="none" stroke="#000" stroke-width="2.5" stroke-linejoin="round" stroke-linecap="round"/>
<path d="M814.7,956.7 L808.0,961.1 L794.7,966.0 L814.2,964.7 L826.6,957.6" fill="none" stroke="#000" stroke-width="2.5" stroke-linejoin="round" stroke-linecap="round"/>
<path d="M947.2,956.5 L956.5,957.9" fill="none" stroke="#000" stroke-width="2.5" stroke-linejoin="round" stroke-linecap="round"/>
<path d="M948.7,956.1 L948.2,963.7 L922.4,964.3 L917.7,967.4 L931.7,968.4" fill="none" stroke="#000" stroke-width="2.5" stroke-linejoin="round" stroke-linecap="round"/>
<path d="M917.7,967.4 L917.2,970.5 L911.0,973.6 L897.0,975.1 L917.7,974.6 L916.2,980.3 L929.6,981.3 L930.6,986.0 L933.7,984.4 L944.1,982.9 L959.6,982.9 L962.7,989.6 L977.3,993.6 L995.9,997.9 L985.9,1003.6 L988.7,1010.1 L1005.9,1019.4 L1005.9,1034.4 L1007.3,1042.3 L1023.1,1049.4 L1026.7,1055.9 L1023.8,1065.9 L1004.5,1077.3 L1000.2,1088.8 L993.0,1099.5 L963.0,1108.1 L968.7,1111.7 L982.3,1126.7 L983.0,1137.4 L991.6,1143.1 L1009.3,1147.2 L1022.6,1148.8 L1042.5,1150.5 L1064.6,1151.6 L1089.0,1152.1 L1106.7,1152.7 L1090.0,1150.0 L1077.9,1143.3 L1090.1,1144.4 L1095.6,1144.4 L1113.0,1139.5 L1122.7,1143.5 L1127.6,1142.4 L1142.2,1144.4 L1152.0,1149.2 L1187.7,1157.0 L1197.4,1160.9 L1220.1,1157.8 L1241.3,1163.8 L1243.7,1166.3 L1255.9,1162.5 L1280.2,1164.6 L1255.0,1166.3 L1268.0,1167.1 L1263.2,1172.8 L1277.0,1176.0 L1285.1,1173.6 L1305.4,1176.0 L1278.6,1177.6 L1255.9,1184.1 L1220.1,1186.6 L1221.0,1191.4 L1207.2,1198.7 L1194.2,1196.3 L1184.4,1213.4 L1174.7,1220.7 L1169.0,1230.0 L1177.8,1235.3 L1164.0,1244.9 L1168.8,1254.2" fill="none" stroke="#000" stroke-width="2.5" stroke-linejoin="round" stroke-linecap="round"/>
<path d="M974.4,1156.6 L1001.5,1155.0 L1031.4,1154.6" fill="none" stroke="#000" stroke-width="2.5" stroke-linejoin="round" stroke-linecap="round"/>
<path d="M999.3,1152.2 L1031.4,1152.6" fill="none" stroke="#000" stroke-width="2.5" stroke-linejoin="round" stroke-linecap="round"/>
<path d="M993.8,1150.5 L998.2,1147.8 L1000.0,1152.0" fill="none" stroke="#000" stroke-width="2.5" stroke-linejoin="round" stroke-linecap="round"/>
<path d="M1168.8,1254.2 L1169.7,1255.1 L1175.0,1253.8 L1188.3,1258.2" fill="none" stroke="#000" stroke-width="2.5" stroke-linejoin="round" stroke-linecap="round"/>
<path d="M1165.3,1264.9 L1180.3,1265.7" fill="none" stroke="#000" stroke-width="2.5" stroke-linejoin="round" stroke-linecap="round"/>
<path d="M1166.0,1256.0 L1163.5,1256.0 L1151.1,1253.3 L1119.2,1252.9 L1116.6,1251.6 L1111.7,1252.0 L1110.8,1254.2 L1102.4,1256.4 L1109.5,1264.4 L1116.6,1264.0 L1139.6,1268.0 L1147.6,1268.8" fill="none" stroke="#000" stroke-width="2.5" stroke-linejoin="round" stroke-linecap="round"/>
<path d="M1138.7,1264.0 L1149.3,1258.7 L1162.6,1260.4 L1166.0,1260.0" fill="none" stroke="#000" stroke-width="2.5" stroke-linejoin="round" stroke-linecap="round"/>
<path d="M1104.2,1278.6 L1127.2,1277.3 L1125.4,1273.3 L1139.6,1270.2 L1147.6,1268.8 L1157.3,1267.5 L1166.0,1264.0" fill="none" stroke="#000" stroke-width="2.5" stroke-linejoin="round" stroke-linecap="round"/>
<circle cx="1097.1" cy="930.7" r="6" fill="#ffa500"/>
<circle cx="814.7" cy="956.7" r="6" fill="#ffa500"/>
<circle cx="988.2" cy="1154.9" r="6" fill="#ffa500"/>
<circle cx="1090.1" cy="1144.4" r="6" fill="#ffa500"/>
<circle cx="1268" cy="1167.1" r="6" fill="#ffa500"/>
<circle cx="1147.6" cy="1268.8" r="6" fill="#ffa500"/>
<circle cx="1157.3" cy="1267.5" r="6" fill="#ffa500"/>
</svg>
</body></html>
